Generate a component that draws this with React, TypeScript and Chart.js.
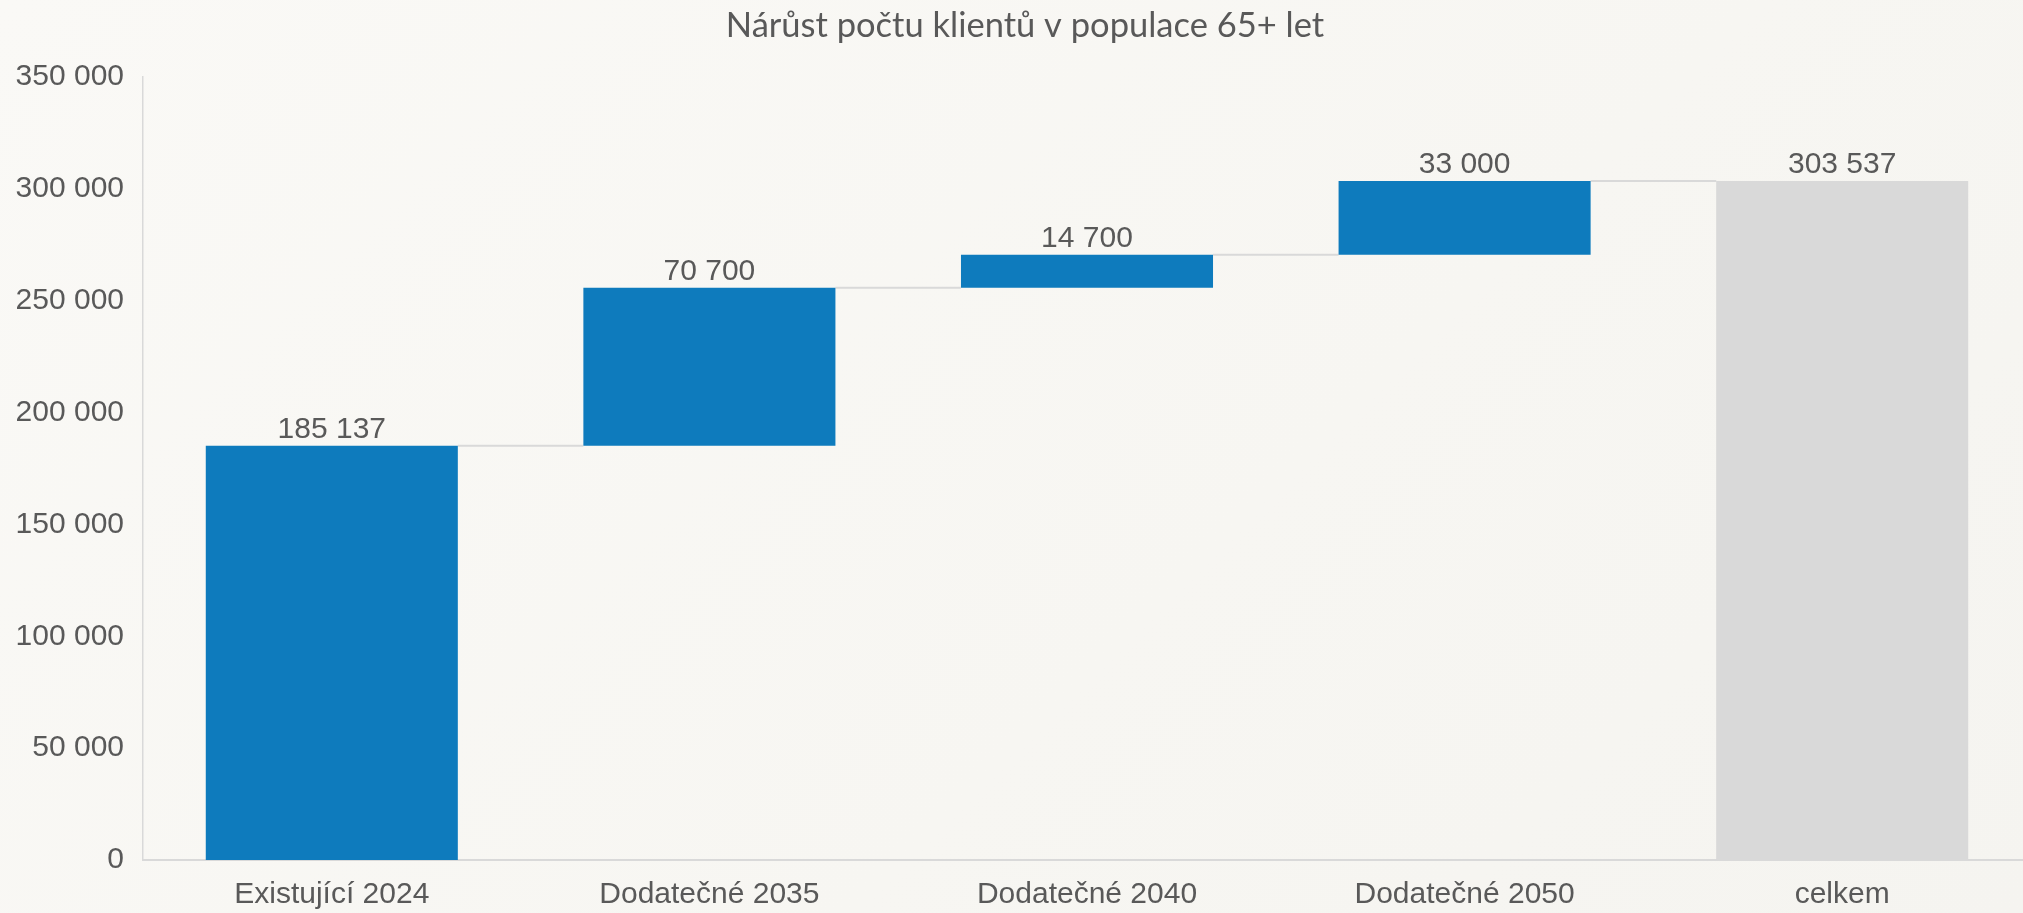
import { useEffect, useRef } from "react";
import { Chart, registerables } from "chart.js";

Chart.register(...registerables);

const chartTitle = "Nárůst počtu klientů v populace 65+ let";
const categories = ["Existující 2024", "Dodatečné 2035", "Dodatečné 2040", "Dodatečné 2050", "celkem"];
const increments = [185137, 70700, 14700, 33000, 303537];
const isTotal = [false, false, false, false, true];
const yTickValues = [0, 50000, 100000, 150000, 200000, 250000, 300000, 350000];

const BLUE = "#0e7bbd";
const GREY_BAR = "#d9d9d9";
const TEXT = "#595959";
const LINE = "#d9d9d9";
const FONT = "'Liberation Sans', Arial, sans-serif";
const TITLE_FONT = "Lato, 'Open Sans', sans-serif";

const fmt = (n: number) => String(Math.round(n)).replace(/\B(?=(\d{3})+(?!\d))/g, " ");

function buildRanges() {
  const out: [number, number][] = [];
  let run = 0;
  increments.forEach((v, i) => {
    if (isTotal[i]) {
      out.push([0, v]);
    } else {
      out.push([run, run + v]);
      run += v;
    }
  });
  return out;
}

export default function App() {
  const ref = useRef<HTMLCanvasElement | null>(null);

  useEffect(() => {
    const canvas = ref.current;
    if (!canvas) return;
    const ranges = buildRanges();

    const titlePlugin = {
      id: "customTitle",
      afterDraw(chart: any) {
        const ctx = chart.ctx;
        ctx.save();
        ctx.fillStyle = TEXT;
        ctx.font = `34.5px ${TITLE_FONT}`;
        ctx.textAlign = "center";
        ctx.textBaseline = "middle";
        ctx.fillText(chartTitle, 1025, 26);
        ctx.restore();
      },
    };

    const connectors = {
      id: "connectors",
      beforeDatasetsDraw(chart: any) {
        const meta = chart.getDatasetMeta(0);
        const y = chart.scales.y;
        const ctx = chart.ctx;
        ctx.save();
        ctx.strokeStyle = LINE;
        ctx.lineWidth = 2;
        for (let i = 0; i < meta.data.length - 1; i++) {
          const a = meta.data[i];
          const b = meta.data[i + 1];
          const yy = y.getPixelForValue(ranges[i][1]);
          ctx.beginPath();
          ctx.moveTo(a.x + a.width / 2, yy);
          ctx.lineTo(b.x - b.width / 2, yy);
          ctx.stroke();
        }
        ctx.restore();
      },
    };

    const labels = {
      id: "valueLabels",
      afterDatasetsDraw(chart: any) {
        const meta = chart.getDatasetMeta(0);
        const ctx = chart.ctx;
        ctx.save();
        ctx.fillStyle = TEXT;
        ctx.font = `30px ${FONT}`;
        ctx.textAlign = "center";
        ctx.textBaseline = "alphabetic";
        meta.data.forEach((bar: any, i: number) => {
          const top = Math.min(bar.y, bar.base);
          ctx.fillText(fmt(increments[i]), bar.x, top - 8);
        });
        ctx.restore();
      },
    };

    const chart = new Chart(canvas, {
      type: "bar",
      data: {
        labels: categories,
        datasets: [
          {
            data: ranges as any,
            backgroundColor: isTotal.map((t) => (t ? GREY_BAR : BLUE)),
            borderWidth: 0,
            categoryPercentage: 1,
            barPercentage: 0.6675,
          },
        ],
      },
      options: {
        animation: false,
        responsive: false,
        maintainAspectRatio: false,
        layout: { padding: { left: 0, right: 0, top: 77, bottom: 0 } },
        plugins: {
          legend: { display: false },
          tooltip: { enabled: false },
          title: { display: false },
        },
        scales: {
          x: {
            grid: { display: false, drawTicks: false },
            border: { display: true, color: LINE, width: 2 },
            afterFit: (scale: any) => {
              scale.height = 53;
            },
            ticks: { color: TEXT, font: { family: FONT, size: 30, lineHeight: 1.2 }, padding: 17, maxRotation: 0 },
          },
          y: {
            min: 0,
            max: 350000,
            grid: { display: false, drawTicks: false },
            border: { display: true, color: LINE, width: 1.5 },
            afterBuildTicks: (scale: any) => {
              scale.ticks = yTickValues.map((v) => ({ value: v }));
            },
            afterFit: (scale: any) => {
              scale.width = 143;
            },
            ticks: {
              color: TEXT,
              font: { family: FONT, size: 30, lineHeight: 1.2 },
              padding: 19,
              callback: (v: any) => fmt(Number(v)),
            },
          },
        },
      },
      plugins: [connectors, labels, titlePlugin],
    });

    return () => chart.destroy();
  }, []);

  return (
    <div
      style={{
        position: "fixed",
        left: 0,
        top: 0,
        width: 2023,
        height: 913,
        overflow: "hidden",
        background: "linear-gradient(135deg, #faf9f6 0%, #f7f6f2 60%, #f5f4f0 100%)",
      }}
    >
      <canvas ref={ref} width={2031} height={913} style={{ display: "block", width: 2031, height: 913 }} />
    </div>
  );
}
